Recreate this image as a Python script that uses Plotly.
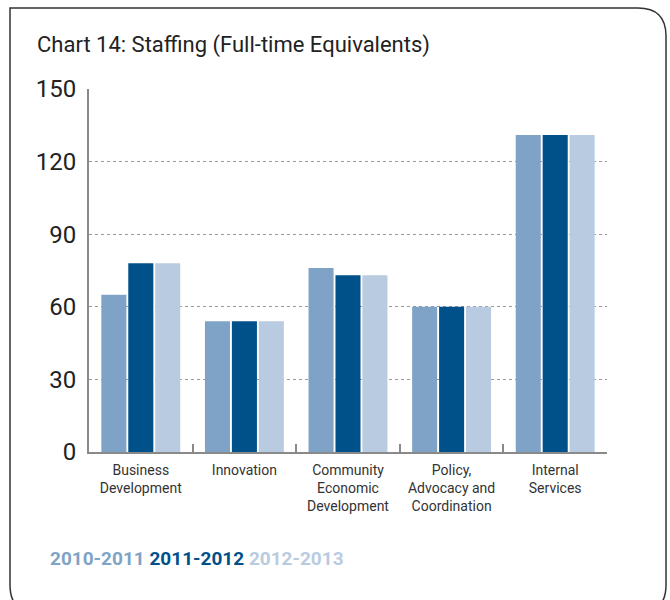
import plotly.graph_objects as go

# Staffing data (full-time equivalents) by program activity
categories = [
    "Business<br>Development",
    "Innovation",
    "Community<br>Economic<br>Development",
    "Policy,<br>Advocacy and<br>Coordination",
    "Internal<br>Services",
]
fte_2010_2011 = [65, 54, 76, 60, 131]
fte_2011_2012 = [78, 54, 73, 60, 131]
fte_2012_2013 = [78, 54, 73, 60, 131]

series_names = ["2010-2011", "2011-2012", "2012-2013"]
series_colors = ["#7fa3c6", "#00518a", "#b9cbe1"]
y_ticks = [0, 30, 60, 90, 120, 150]

W, H = 670, 600
ML, MR, MT, MB = 89, 63, 89, 148
PW, PH = W - ML - MR, H - MT - MB


def px(x):
    return (x - ML) / PW


def py(y):
    return (H - MB - y) / PH


FONT = "Roboto, Arial, sans-serif"

fig = go.Figure()
for name, vals, col in zip(series_names, [fte_2010_2011, fte_2011_2012, fte_2012_2013], series_colors):
    fig.add_trace(go.Bar(x=categories, y=vals, name=name, marker=dict(color=col, line=dict(width=0)),
                         showlegend=False))

# rounded outer frame
frame = (
    f"M {px(10)},{py(8)} L {px(638)},{py(8)} Q {px(666)},{py(8)} {px(666)},{py(36)} "
    f"L {px(666)},{py(585)} Q {px(666)},{py(613)} {px(638)},{py(613)} "
    f"L {px(38)},{py(613)} Q {px(10)},{py(613)} {px(10)},{py(585)} Z"
)

fig.update_layout(
    width=W, height=H,
    margin=dict(l=ML, r=MR, t=MT, b=MB),
    paper_bgcolor="white", plot_bgcolor="white",
    barmode="group", bargap=0.22, bargroupgap=0.07,
    font=dict(family=FONT, color="#333333"),
    xaxis=dict(
        type="category", range=[-0.5, 4.5],
        showline=True, linecolor="#8a8a8a", linewidth=2,
        ticks="inside", tickson="boundaries", ticklen=8, tickwidth=2, tickcolor="#8a8a8a",
        tickfont=dict(size=14, color="#333333"), ticklabelstandoff=4,
        showgrid=False, zeroline=False,
    ),
    yaxis=dict(
        range=[0, 150], tickvals=y_ticks,
        showline=True, linecolor="#8a8a8a", linewidth=2,
        showgrid=True, gridcolor="#9a9a9a", griddash="dot", gridwidth=1,
        zeroline=False, ticks="", ticklabelstandoff=6,
        tickfont=dict(size=24, color="#222222"),
    ),
    shapes=[dict(type="path", xref="paper", yref="paper", path=frame,
                 line=dict(color="#333333", width=1.5), layer="below")],
    annotations=[
        dict(text="Chart 14: Staffing (Full-time Equivalents)", xref="paper", yref="paper",
             x=px(35), y=py(45), xanchor="left", yanchor="middle", showarrow=False,
             font=dict(size=22, color="#222222", family=FONT)),
        dict(text="<b>" + " ".join(
            f"<span style='color:{c}'>{n}</span>" for n, c in zip(series_names, series_colors)) + "</b>",
             xref="paper", yref="paper", x=px(48), y=py(558), xanchor="left", yanchor="middle",
             showarrow=False, font=dict(size=19, family=FONT)),
    ],
)

fig.write_html("out.html")
